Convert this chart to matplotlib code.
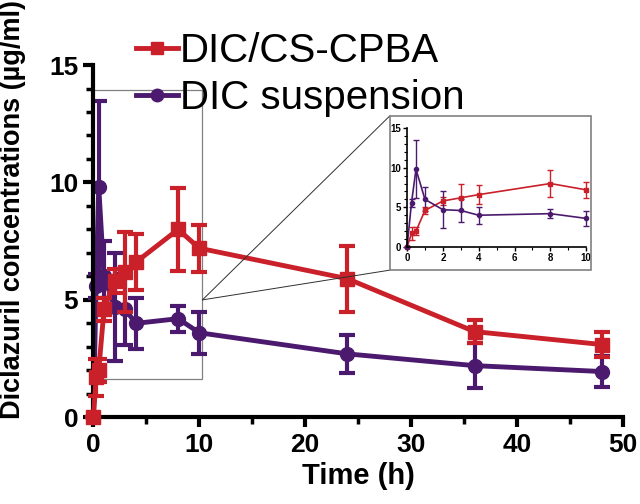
import matplotlib
matplotlib.use("Agg")
from matplotlib import pyplot as plt
from matplotlib.patches import Rectangle, ConnectionPatch
from matplotlib.lines import Line2D
from matplotlib.ticker import MultipleLocator

plt.rcParams['font.family'] = ['Liberation Sans', 'DejaVu Sans']

# time points (h)
t = [0, 0.25, 0.5, 1, 2, 3, 4, 8, 10, 24, 36, 48]
# DIC/CS-CPBA
cs_mean = [0, 1.7, 2.0, 4.6, 5.8, 6.2, 6.6, 8.0, 7.2, 5.9, 3.65, 3.1]
cs_sd = [0, 0.8, 0.5, 0.5, 0.5, 1.7, 1.2, 1.75, 1.0, 1.4, 0.5, 0.55]
# DIC suspension
su_mean = [0, 5.6, 9.8, 6.0, 4.7, 4.6, 4.0, 4.2, 3.6, 2.7, 2.2, 1.95]
su_sd = [0, 0.5, 3.65, 1.5, 2.3, 1.5, 1.1, 0.55, 0.9, 0.8, 0.95, 0.65]

red = "#c9202a"
purple = "#4b1a6e"

fig = plt.figure(figsize=(6.4, 5.04), dpi=100)
ax = fig.add_axes([0.146, 0.172, 0.827, 0.699])

ax.errorbar(t, cs_mean, yerr=cs_sd, color=red, marker="s", markersize=10,
            linewidth=3.5, elinewidth=3, capsize=6, capthick=3, clip_on=False, zorder=3)
ax.errorbar(t, su_mean, yerr=su_sd, color=purple, marker="o", markersize=10,
            linewidth=3.5, elinewidth=3, capsize=6, capthick=3, clip_on=False, zorder=2)

ax.set_xlim(0, 50)
ax.set_ylim(0, 15)
ax.xaxis.set_major_locator(MultipleLocator(10))
ax.xaxis.set_minor_locator(MultipleLocator(5))
ax.yaxis.set_major_locator(MultipleLocator(5))
ax.yaxis.set_minor_locator(MultipleLocator(1))
for s in ["top", "right"]:
    ax.spines[s].set_visible(False)
for s in ["left", "bottom"]:
    ax.spines[s].set_linewidth(3)
ax.tick_params(which="major", length=7, width=3, labelsize=19, pad=4)
ax.tick_params(which="minor", length=5, width=2.5)
for lab in ax.get_xticklabels() + ax.get_yticklabels():
    lab.set_fontweight("bold")
ax.set_xlabel("Time (h)", fontsize=21, fontweight="bold", labelpad=4)
ax.set_ylabel("Diclazuril concentrations (µg/ml)", fontsize=19.5, fontweight="bold")
ax.yaxis.set_label_coords(-0.127, 0.59)

h1 = Line2D([], [], color=red, marker="s", markersize=9, linewidth=3.5)
h2 = Line2D([], [], color=purple, marker="o", markersize=9, linewidth=3.5)
leg = fig.legend(handles=[h1, h2], labels=["DIC/CS-CPBA", "DIC suspension"],
                 loc="upper left", bbox_to_anchor=(0.187, 0.968),
                 frameon=False, fontsize=29, handlelength=1.05, handletextpad=0.05,
                 labelspacing=0.22, borderaxespad=0)
leg.set_zorder(5)

# zoom rectangle on main axes
ax.add_patch(Rectangle((0, 1.65), 10.3, 12.3, fill=False, edgecolor="#808080",
                       linewidth=0.9, clip_on=False, zorder=1))

# inset frame and connector lines
box = (0.609, 0.464, 0.314, 0.306)
fig.patches.append(Rectangle(box[:2], box[2], box[3], transform=fig.transFigure,
                             fill=False, edgecolor="#808080", linewidth=1.2))
for yb in (box[1] + box[3], box[1]):
    con = ConnectionPatch(xyA=(10.3, 5.0), coordsA=ax.transData,
                          xyB=(box[0], yb), coordsB=fig.transFigure,
                          color="#303030", linewidth=0.7)
    fig.add_artist(con)

ins = fig.add_axes([0.636, 0.510, 0.280, 0.236])
ins.errorbar(t[:9], cs_mean[:9], yerr=cs_sd[:9], color=red, marker="s", markersize=3,
             linewidth=1.2, elinewidth=1, capsize=2, capthick=1, clip_on=False)
ins.errorbar(t[:9], su_mean[:9], yerr=su_sd[:9], color=purple, marker="o", markersize=3,
             linewidth=1.2, elinewidth=1, capsize=2, capthick=1, clip_on=False)
ins.set_xlim(0, 10)
ins.set_ylim(0, 15)
ins.xaxis.set_major_locator(MultipleLocator(2))
ins.xaxis.set_minor_locator(MultipleLocator(1))
ins.yaxis.set_major_locator(MultipleLocator(5))
ins.yaxis.set_minor_locator(MultipleLocator(1))
for s in ["top", "right"]:
    ins.spines[s].set_visible(False)
for s in ["left", "bottom"]:
    ins.spines[s].set_linewidth(1.2)
ins.tick_params(which="major", length=3, width=1, labelsize=7, pad=1.5)
ins.tick_params(which="minor", length=2, width=0.8)
for lab in ins.get_xticklabels() + ins.get_yticklabels():
    lab.set_fontweight("bold")

fig.savefig("out.png", dpi=100)
